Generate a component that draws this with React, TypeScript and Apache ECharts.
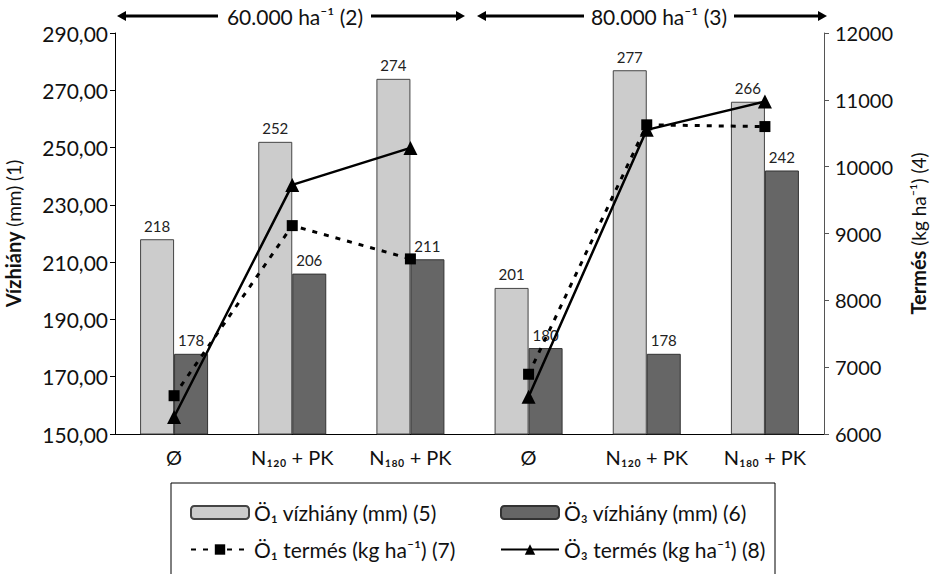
import React, { useEffect, useRef } from "react";
import * as echarts from "echarts";

const categories = ["Ø", "N₁₂₀ + PK", "N₁₈₀ + PK", "Ø", "N₁₂₀ + PK", "N₁₈₀ + PK"];
const o1Deficit = [218, 252, 274, 201, 277, 266];
const o3Deficit = [178, 206, 211, 180, 178, 242];
const o1Yield = [6573, 9118, 8620, 6894, 10626, 10600];
const o3Yield = [6254, 9727, 10281, 6558, 10551, 10975];
const leftTicks = { min: 150, max: 290, interval: 20 };
const rightTicks = { min: 6000, max: 12000, interval: 1000 };
const groupLabels = ["60.000 ha⁻¹ (2)", "80.000 ha⁻¹ (3)"];

const FONT = "Lato";
const N1 = "Ö₁ vízhiány (mm) (5)";
const N3 = "Ö₃ vízhiány (mm) (6)";
const Y1 = "Ö₁ termés (kg ha⁻¹) (7)";
const Y3 = "Ö₃ termés (kg ha⁻¹) (8)";

function seg(arr: number[], part: number) {
  return arr.map((v, i) => ((i < 3) === (part === 0) ? v : "-"));
}

function arrow(x1: number, x2: number, y: number, tx1: number, tx2: number) {
  const w = 3;
  return [
    { type: "line", shape: { x1: x1 + 6, y1: y, x2: tx1, y2: y }, style: { stroke: "#000", lineWidth: w } },
    { type: "line", shape: { x1: tx2, y1: y, x2: x2 - 6, y2: y }, style: { stroke: "#000", lineWidth: w } },
    { type: "polygon", shape: { points: [[x1, y], [x1 + 9, y - 5], [x1 + 9, y + 5]] }, style: { fill: "#000" } },
    { type: "polygon", shape: { points: [[x2, y], [x2 - 9, y - 5], [x2 - 9, y + 5]] }, style: { fill: "#000" } },
  ];
}

export default function App() {
  const ref = useRef<HTMLDivElement>(null);
  useEffect(() => {
    if (!ref.current) return;
    const chart = echarts.init(ref.current, null, { renderer: "svg" });
    const lineBase = (name: string, data: any[], dashed: boolean) => ({
      name,
      type: "line",
      yAxisIndex: 1,
      data,
      connectNulls: false,
      symbol: dashed ? "rect" : "triangle",
      symbolSize: dashed ? 11 : 14,
      itemStyle: { color: "#000" },
      lineStyle: { color: "#000", width: dashed ? 3 : 2.5, type: dashed ? [5, 7] : "solid" },
      z: 5,
    });
    const legendText = { fontSize: 21, color: "#111", fontFamily: FONT };
    chart.setOption({
      animation: false,
      textStyle: { fontFamily: FONT },
      grid: { left: 115, right: 107, top: 33, bottom: 140, containLabel: false, outerBoundsMode: "none" },
      xAxis: {
        type: "category",
        data: categories,
        axisLine: { lineStyle: { color: "#000", width: 1 } },
        axisTick: { inside: true, length: 6, lineStyle: { color: "#000" } },
        axisLabel: { color: "#111", fontSize: 20, fontFamily: FONT, margin: 13 },
      },
      yAxis: [
        {
          type: "value",
          ...leftTicks,
          name: "{b|Vízhiány} (mm) (1)",
          nameLocation: "middle",
          nameGap: 92,
          nameTextStyle: {
            fontSize: 19,
            color: "#111",
            fontFamily: FONT,
            rich: { b: { fontWeight: "bold", fontSize: 20, fontFamily: FONT, color: "#111" } },
          },
          axisLine: { show: true, lineStyle: { color: "#000" } },
          axisTick: { show: true, length: 5, lineStyle: { color: "#000" } },
          axisLabel: {
            fontSize: 21,
            color: "#111",
            fontFamily: FONT,
            margin: 7,
            formatter: (v: number) => v.toFixed(2).replace(".", ","),
          },
          splitLine: { show: false },
        },
        {
          type: "value",
          ...rightTicks,
          position: "right",
          name: "{b|Termés} (kg ha⁻¹) (4)",
          nameLocation: "middle",
          nameGap: 84,
          nameRotate: 90,
          nameTextStyle: {
            fontSize: 19,
            color: "#111",
            fontFamily: FONT,
            rich: { b: { fontWeight: "bold", fontSize: 20, fontFamily: FONT, color: "#111" } },
          },
          axisLine: { show: true, lineStyle: { color: "#555" } },
          axisTick: { show: true, length: 5, lineStyle: { color: "#555" } },
          axisLabel: {
            fontSize: 20,
            color: "#111",
            fontFamily: FONT,
            margin: 11,
            formatter: (v: number) => String(v),
          },
          splitLine: { show: false },
        },
      ],
      legend: [
        {
          data: [N1, Y1],
          orient: "vertical",
          left: 185,
          top: 497,
          itemWidth: 58,
          itemHeight: 13,
          itemGap: 16,
          textStyle: legendText,
        },
        {
          data: [N3, Y3],
          orient: "vertical",
          left: 495,
          top: 497,
          itemWidth: 58,
          itemHeight: 13,
          itemGap: 16,
          textStyle: legendText,
        },
      ],
      series: [
        {
          name: N1,
          type: "bar",
          data: o1Deficit,
          barWidth: 34,
          barGap: "0%",
          itemStyle: { color: "#cccccc", borderColor: "#444", borderWidth: 1 },
          label: { show: true, position: "top", fontSize: 15, color: "#222", fontFamily: FONT, distance: 6 },
        },
        {
          name: N3,
          type: "bar",
          data: o3Deficit,
          barWidth: 34,
          barGap: "0%",
          itemStyle: { color: "#666666", borderColor: "#333", borderWidth: 1 },
          label: { show: true, position: "top", fontSize: 15, color: "#222", fontFamily: FONT, distance: 6 },
        },
        lineBase(Y1, seg(o1Yield, 0), true),
        lineBase(Y1, seg(o1Yield, 1), true),
        lineBase(Y3, seg(o3Yield, 0), false),
        lineBase(Y3, seg(o3Yield, 1), false),
      ],
      graphic: [
        ...arrow(117, 465, 16, 218, 371),
        ...arrow(477, 827, 16, 584, 734),
        {
          type: "text",
          x: 295,
          y: 16,
          style: { text: groupLabels[0], fontSize: 21, fontFamily: FONT, fill: "#111", align: "center", verticalAlign: "middle" },
        },
        {
          type: "text",
          x: 659,
          y: 16,
          style: { text: groupLabels[1], fontSize: 21, fontFamily: FONT, fill: "#111", align: "center", verticalAlign: "middle" },
        },
        {
          type: "rect",
          shape: { x: 171, y: 483, width: 604, height: 130 },
          style: { fill: "none", stroke: "#000", lineWidth: 1 },
          z: -1,
        },
      ],
    });
    return () => chart.dispose();
  }, []);
  return <div ref={ref} style={{ width: 931, height: 574, position: "absolute", left: 0, top: 0 }} />;
}
